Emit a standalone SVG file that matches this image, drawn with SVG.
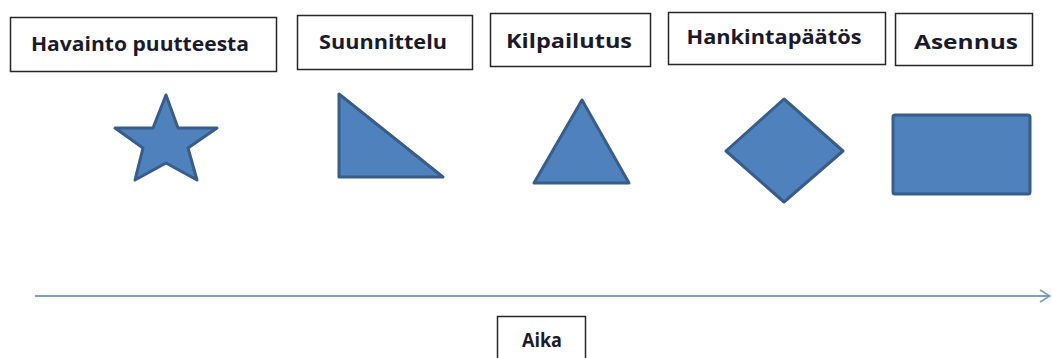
<svg xmlns="http://www.w3.org/2000/svg" width="1052" height="358" viewBox="0 0 1052 358">
  <style>
    .box { fill: #ffffff; stroke: #262626; stroke-width: 1.5; }
    .lbl { font-family: "Open Sans", "Liberation Sans", sans-serif; font-weight: bold; font-size: 19px; fill: #1a1a2a; text-anchor: middle; }
    .shape { fill: #4f81bd; stroke: #385d8a; stroke-width: 3; stroke-linejoin: round; }
    .axis { stroke: #7a9cc6; stroke-width: 2; fill: none; }
  </style>
  <defs>
    <marker id="open-arrow" viewBox="0 0 12 14" refX="11" refY="7" markerWidth="12" markerHeight="14" markerUnits="userSpaceOnUse" orient="auto">
      <path d="M1,1 L11,7 L1,13" fill="none" stroke="#7a9cc6" stroke-width="1.6"/>
    </marker>
  </defs>

  <rect width="1052" height="358" fill="#ffffff"/>

  <!-- phase labels -->
  <g id="havainto">
    <rect class="box" x="10.5" y="17.5" width="266" height="54"/>
    <text class="lbl" x="140" y="51" textLength="218" lengthAdjust="spacingAndGlyphs">Havainto puutteesta</text>
  </g>
  <g id="suunnittelu">
    <rect class="box" x="297.5" y="15.5" width="175" height="54"/>
    <text class="lbl" x="383" y="49" textLength="128" lengthAdjust="spacingAndGlyphs">Suunnittelu</text>
  </g>
  <g id="kilpailutus">
    <rect class="box" x="490.5" y="13.5" width="160" height="53"/>
    <text class="lbl" x="569" y="48" textLength="126" lengthAdjust="spacingAndGlyphs">Kilpailutus</text>
  </g>
  <g id="hankintapaatos">
    <rect class="box" x="668.5" y="12.5" width="217" height="52"/>
    <text class="lbl" x="774" y="44" textLength="175" lengthAdjust="spacingAndGlyphs">Hankintapäätös</text>
  </g>
  <g id="asennus">
    <rect class="box" x="895.5" y="13.5" width="137" height="52"/>
    <text class="lbl" x="966" y="49" textLength="104" lengthAdjust="spacingAndGlyphs">Asennus</text>
  </g>

  <!-- phase symbols -->
  <g id="star">
    <polygon class="shape" points="166,95 178,128 217,128 188,148 197,180 166,163 135,180 143,148 115,128 153,128"/>
  </g>
  <g id="right-triangle">
    <polygon class="shape" points="339,94 339,177 443,177"/>
  </g>
  <g id="triangle">
    <polygon class="shape" points="582,100 629,183 534,183"/>
  </g>
  <g id="diamond">
    <polygon class="shape" points="784,99 843,151 784,202 726,151"/>
  </g>
  <g id="rectangle">
    <rect class="shape" x="893" y="115" width="137" height="79" rx="2"/>
  </g>

  <!-- time axis -->
  <g id="connectors">
    <line class="axis" x1="35" y1="296" x2="1050" y2="296" marker-end="url(#open-arrow)"/>
  </g>
  <g id="aika">
    <rect class="box" x="497.5" y="316.5" width="88" height="50"/>
    <text class="lbl" x="542" y="347" textLength="40" lengthAdjust="spacingAndGlyphs">Aika</text>
  </g>
</svg>
